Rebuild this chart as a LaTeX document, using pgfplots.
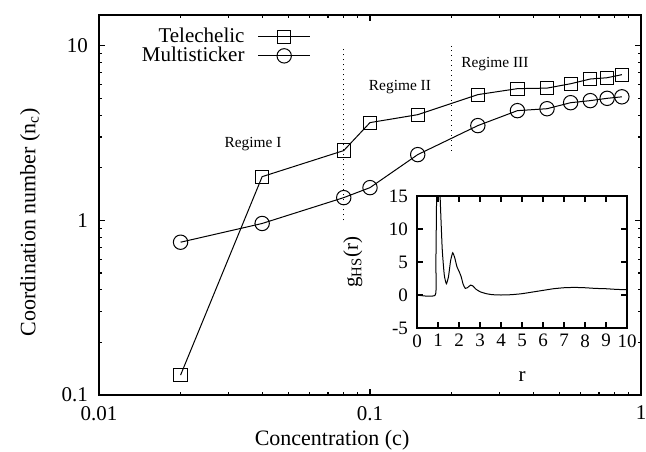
\documentclass[border=0pt]{standalone}
\usepackage{fontspec}
\setmainfont{Liberation Serif}
\usepackage{pgfplots}
\pgfplotsset{compat=1.18}
\usetikzlibrary{calc}

\begin{document}
\begin{tikzpicture}
\begin{axis}[
  name=main,
  scale only axis,
  width=271pt,
  height=190pt,
  xmode=log,
  ymode=log,
  xmin=0.01, xmax=1,
  ymin=0.1, ymax=15,
  xtick={0.01,0.1,1},
  xticklabels={0.01,0.1,1},
  ytick={0.1,1,10},
  yticklabels={0.1,1,10},
  minor xtick={0.02,0.03,0.04,0.05,0.06,0.07,0.08,0.09,0.2,0.3,0.4,0.5,0.6,0.7,0.8,0.9},
  minor ytick={0.2,0.3,0.4,0.5,0.6,0.7,0.8,0.9,2,3,4,5,6,7,8,9},
  tick align=inside,
  major tick length=3pt,
  minor tick length=1.5pt,
  axis line style={line width=1pt},
  every tick/.style={black, line width=0.6pt},
  font=\fontsize{10.5}{12}\selectfont,
  /pgf/number format/assume math mode=true,
  xticklabel style={yshift=-2pt},
  yticklabel style={xshift=-2pt},
  xlabel={Concentration (c)},
  ylabel={Coordination number (n\textsubscript{c})},
  xlabel style={at={(axis description cs:0.43,-0.118)}, anchor=center,
    font=\fontsize{11}{13}\selectfont},
  ylabel style={at={(axis description cs:-0.127,0.455)}, anchor=center,
    font=\fontsize{11}{13}\selectfont},
  legend plot pos=right,
  legend cell align=right,
  legend style={at={(axis description cs:0.395,0.975)}, anchor=north east,
    draw=none, fill=none, font=\fontsize{10.5}{12}\selectfont,
    nodes={inner sep=0.6pt}, row sep=-0.5pt, column sep=6pt, inner sep=1pt},
  legend image code/.code={\draw[mark repeat=2,mark phase=2,#1]
    plot coordinates {(0pt,0pt) (13pt,0pt) (26pt,0pt)};},
]

\addplot[black, line width=0.5pt, mark=square, mark size=3.3pt,
  mark options={solid, line width=0.5pt}] coordinates {
  (0.02,0.13) (0.04,1.78) (0.08,2.51) (0.1,3.63) (0.15,4.03) (0.25,5.25)
  (0.35,5.68) (0.45,5.72) (0.55,6.06) (0.65,6.45) (0.75,6.56) (0.85,6.83)
};
\addlegendentry{Telechelic}

\addplot[black, line width=0.5pt, mark=o, mark size=3.6pt,
  mark options={solid, line width=0.5pt}] coordinates {
  (0.02,0.75) (0.04,0.96) (0.08,1.35) (0.1,1.54) (0.15,2.38) (0.25,3.49)
  (0.35,4.25) (0.45,4.36) (0.55,4.72) (0.65,4.85) (0.75,5.0) (0.85,5.1)
};
\addlegendentry{Multisticker}

\addplot[black, dotted, line width=0.5pt, forget plot] coordinates {(0.08,1) (0.08,10)};
\addplot[black, dotted, line width=0.5pt, forget plot] coordinates {(0.2,2.5) (0.2,10)};

\node[font=\fontsize{7.7}{9}\selectfont] at (axis cs:0.037,2.75) {Regime I};
\node[font=\fontsize{7.7}{9}\selectfont] at (axis cs:0.129,5.83) {Regime II};
\node[font=\fontsize{7.7}{9}\selectfont] at (axis cs:0.289,7.9) {Regime III};
\end{axis}

\begin{axis}[
  at={($(main.south west)+(159pt,33.5pt)$)},
  anchor=south west,
  scale only axis,
  width=105pt,
  height=66pt,
  xmin=0, xmax=10,
  ymin=-5, ymax=15,
  xtick={0,1,2,3,4,5,6,7,8,9,10},
  ytick={-5,0,5,10,15},
  tick align=inside,
  major tick length=3pt,
  axis line style={line width=1pt},
  every tick/.style={black, line width=0.6pt},
  font=\fontsize{10.5}{12}\selectfont,
  tick label style={font=\fontsize{9.5}{10}\selectfont},
  /pgf/number format/assume math mode=true,
  xticklabel style={inner sep=1pt, yshift=-2pt},
  yticklabel style={xshift=-1pt},
  axis background/.style={fill=white},
  xlabel={r},
  ylabel={g\textsubscript{HS}(r)},
  xlabel style={at={(axis description cs:0.5,-0.371)}, anchor=center},
  ylabel style={at={(axis description cs:-0.305,0.5)}, anchor=center},
]
\addplot[black, line width=0.5pt, smooth, tension=0.3] coordinates {
  (0,0) (0.87,0) (0.9,5) (0.95,20) (1.0,30) (1.05,22) (1.1,15) (1.2,7)
  (1.3,3) (1.4,1.7) (1.5,2.8) (1.6,5.2) (1.7,6.4) (1.8,5.6) (1.9,4.3)
  (2.0,3.6) (2.1,2.8) (2.2,1.6) (2.3,1.0) (2.4,1.1) (2.55,1.5) (2.65,1.4)
  (2.8,0.9) (3.0,0.5) (3.3,0.2) (3.6,0.05) (4,0) (4.5,0.05) (5,0.2)
  (5.5,0.45) (6,0.7) (6.5,0.95) (7,1.1) (7.5,1.15) (8,1.1) (8.5,1.0)
  (9,0.95) (9.5,0.85) (10,0.8)
};
\end{axis}

\pgfresetboundingbox
\path[use as bounding box] ($(main.south west)+(-49.5pt,-28pt)$)
  rectangle ($(main.north east)+(2.5pt,7.5pt)$);
\end{tikzpicture}
\end{document}
